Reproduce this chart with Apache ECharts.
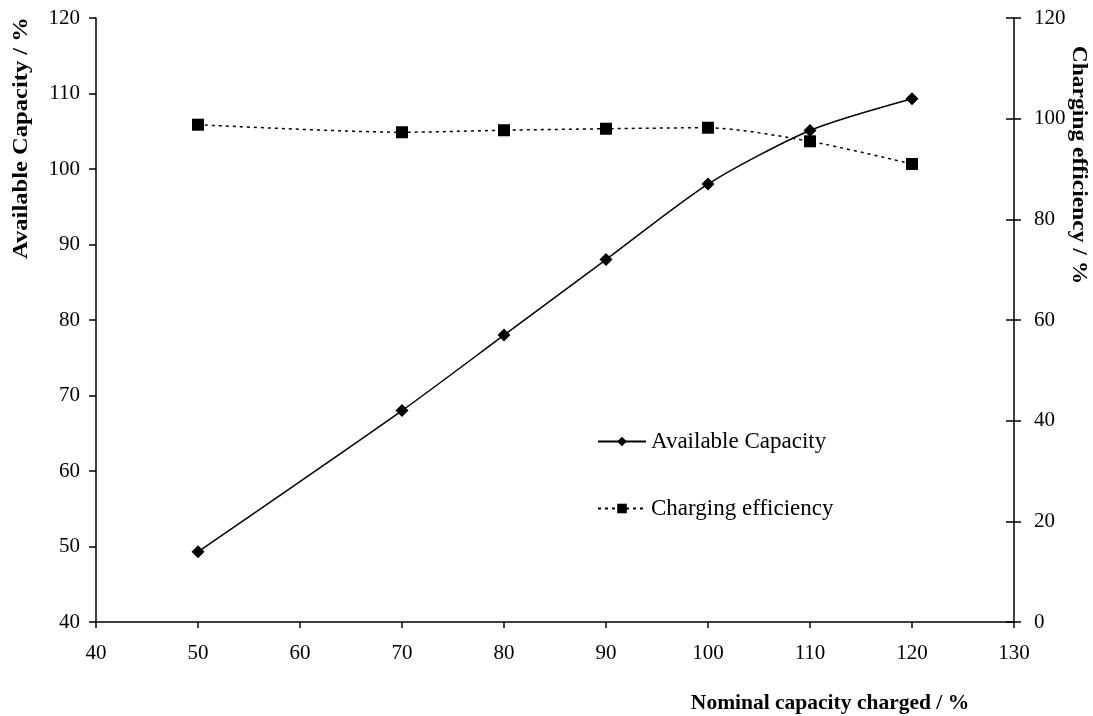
<!DOCTYPE html>
<html>
<head>
<meta charset="utf-8">
<script src="https://cdn.jsdelivr.net/npm/echarts@6/dist/echarts.min.js"></script>
<style>
  html, body { margin: 0; padding: 0; background: #fff; }
  #chart { width: 1093px; height: 716px; }
</style>
</head>
<body>
<div id="chart"></div>
<script>
// Nominal capacity charged (%) for each test point
const nominalCharged = [50, 70, 80, 90, 100, 110, 120];
// Available capacity (%), left axis
const availableCapacity = [49.3, 68, 78, 88, 98, 105.1, 109.3];
// Charging efficiency (%), right axis
const chargingEfficiency = [98.8, 97.3, 97.7, 98.0, 98.2, 95.5, 91.0];

const FONT = '"Liberation Serif", "Times New Roman", serif';

const pairs = (xs, ys) => xs.map((x, i) => [x, ys[i]]);

const line = { color: '#000', width: 1.5 };
const label = (margin) => ({ color: '#000', fontFamily: FONT, fontSize: 21, margin: margin });

const chart = echarts.init(document.getElementById('chart'));
chart.setOption({
  backgroundColor: '#fff',
  animation: false,
  grid: { left: 96, right: 79, top: 18, bottom: 94 },
  xAxis: {
    type: 'value', min: 40, max: 130, interval: 10,
    axisLine: { show: true, lineStyle: line },
    axisTick: { show: true, length: 6, lineStyle: line },
    axisLabel: label(21),
    splitLine: { show: false }
  },
  yAxis: [
    {
      type: 'value', min: 40, max: 120, interval: 10, position: 'left',
      axisLine: { show: true, lineStyle: line },
      axisTick: { show: true, length: 7, lineStyle: line },
      axisLabel: label(16),
      splitLine: { show: false }
    },
    {
      type: 'value', min: 0, max: 120, interval: 20, position: 'right',
      axisLine: { show: true, lineStyle: line },
      axisTick: { show: true, length: 7, lineStyle: line },
      axisLabel: label(20),
      splitLine: { show: false }
    },
    // inner half of the right-hand ticks, so they cross the axis line
    {
      type: 'value', min: 0, max: 120, interval: 20, position: 'right',
      axisLine: { show: false },
      axisTick: { show: true, inside: true, length: 8, lineStyle: line },
      axisLabel: { show: false },
      splitLine: { show: false }
    }
  ],
  legend: {
    orient: 'vertical',
    left: 592,
    top: 425,
    itemGap: 44,
    itemWidth: 48,
    itemHeight: 12,
    textStyle: { color: '#000', fontFamily: FONT, fontSize: 23 },
    data: ['Available Capacity', 'Charging efficiency']
  },
  series: [
    {
      name: 'Available Capacity',
      type: 'line',
      yAxisIndex: 0,
      data: pairs(nominalCharged, availableCapacity),
      smooth: 0.25,
      symbol: 'diamond',
      symbolSize: 13,
      itemStyle: { color: '#000' },
      lineStyle: { color: '#000', width: 1.5, type: 'solid' }
    },
    {
      name: 'Charging efficiency',
      type: 'line',
      yAxisIndex: 1,
      data: pairs(nominalCharged, chargingEfficiency),
      smooth: 0.25,
      symbol: 'rect',
      symbolSize: 12,
      itemStyle: { color: '#000' },
      lineStyle: { color: '#000', width: 1.5, type: [3, 4] }
    }
  ],
  graphic: [
    {
      type: 'text',
      x: 22, y: 138, rotation: Math.PI / 2, scaleX: 1.17,
      style: {
        text: 'Available Capacity / %', fill: '#000',
        font: 'bold 21px ' + FONT, align: 'center', verticalAlign: 'middle'
      }
    },
    {
      type: 'text',
      x: 1078, y: 165, rotation: -Math.PI / 2, scaleX: 1.12,
      style: {
        text: 'Charging efficiency / %', fill: '#000',
        font: 'bold 21px ' + FONT, align: 'center', verticalAlign: 'middle'
      }
    },
    {
      type: 'text',
      x: 830, y: 703,
      style: {
        text: 'Nominal capacity charged / %', fill: '#000',
        font: 'bold 21.5px ' + FONT, align: 'center', verticalAlign: 'middle'
      }
    }
  ]
});
</script>
</body>
</html>
